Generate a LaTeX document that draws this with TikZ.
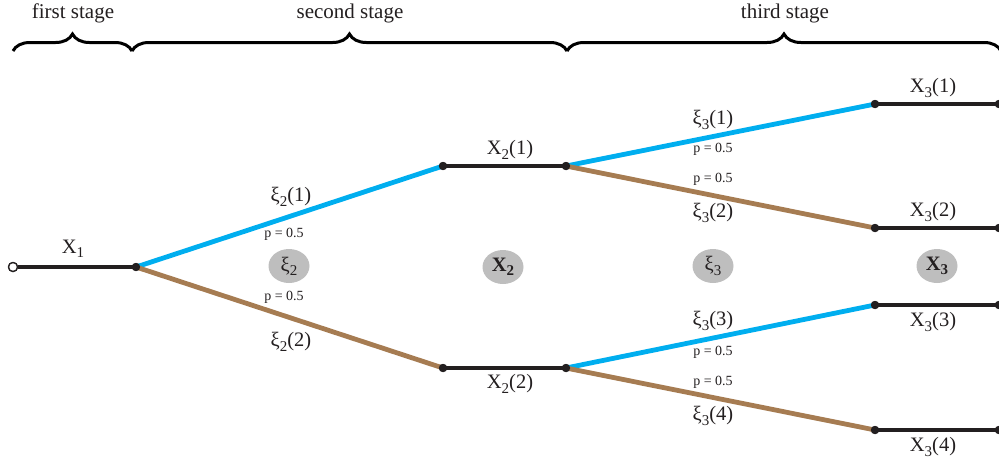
\documentclass[tikz,border=0pt]{standalone}
\usepackage{fontspec}
\setmainfont{Liberation Serif}
\usetikzlibrary{decorations.pathreplacing,shapes.geometric}
\definecolor{cyanline}{RGB}{0,174,239}
\definecolor{brownline}{RGB}{166,124,82}
\definecolor{darkline}{RGB}{35,31,32}
\definecolor{ballgray}{RGB}{190,190,190}
\newcommand\sbs[1]{\raisebox{-0.45ex}{\fontsize{15}{15}\selectfont #1}}
\begin{document}
\begin{tikzpicture}[x=1pt,y=-1pt,
  dot/.style={circle,fill=darkline,inner sep=0pt,minimum size=8pt},
  opendot/.style={circle,draw=darkline,fill=white,line width=1.3pt,inner sep=0pt,minimum size=9pt},
  seg/.style={line width=4.8pt,draw=darkline},
  up/.style={line width=4.8pt,draw=cyanline},
  down/.style={line width=4.8pt,draw=brownline},
  lab/.style={font=\fontsize{20.5}{20.5}\selectfont,text=darkline,inner sep=0pt},
  plab/.style={font=\fontsize{14}{14}\selectfont,text=darkline,inner sep=0pt},
  stagelab/.style={font=\fontsize{21}{21}\selectfont,text=darkline,inner sep=0pt},
  ball/.style={ellipse,fill=ballgray,minimum width=41pt,minimum height=34pt,inner sep=0pt,font=\fontsize{20.5}{20.5}\selectfont,text=darkline},
  bracestyle/.style={decorate,decoration={brace,amplitude=17pt},line width=3pt,draw=black}
]
\useasboundingbox (0,0) rectangle (999,464);
% stage braces
\coordinate (b0) at (13,51);
\coordinate (b1) at (132,51);
\coordinate (b2) at (567,51);
\coordinate (b3) at (1001,51);
\draw[bracestyle] (b0) -- (b1);
\draw[bracestyle] (b1) -- (b2);
\draw[bracestyle] (b2) -- (b3);
\node[stagelab] (s1) at (73,13) {first stage};
\node[stagelab] (s2) at (350,13) {second stage};
\node[stagelab] (s3) at (785,13) {third stage};
% nodes
\node[opendot] (start) at (13,267) {};
\node[dot] (n1) at (136,267) {};
\node[dot] (a1) at (443,166) {};
\node[dot] (b1n) at (566,166) {};
\node[dot] (a2) at (443,368) {};
\node[dot] (b2n) at (566,368) {};
\node[dot] (c1) at (875,104) {};
\node[dot] (d1) at (999,104) {};
\node[dot] (c2) at (875,228) {};
\node[dot] (d2) at (999,228) {};
\node[dot] (c3) at (875,305) {};
\node[dot] (d3) at (999,305) {};
\node[dot] (c4) at (875,430) {};
\node[dot] (d4) at (999,430) {};
% branches
\draw[up] (n1.center) -- (a1.center);
\draw[down] (n1.center) -- (a2.center);
\draw[up] (b1n.center) -- (c1.center);
\draw[down] (b1n.center) -- (c2.center);
\draw[up] (b2n.center) -- (c3.center);
\draw[down] (b2n.center) -- (c4.center);
% decision segments
\draw[seg] (start) -- (n1.center);
\draw[seg] (a1.center) -- (b1n.center);
\draw[seg] (a2.center) -- (b2n.center);
\draw[seg] (c1.center) -- (d1.center);
\draw[seg] (c2.center) -- (d2.center);
\draw[seg] (c3.center) -- (d3.center);
\draw[seg] (c4.center) -- (d4.center);
% redraw dots on top
\foreach \n in {n1,a1,b1n,a2,b2n,c1,d1,c2,d2,c3,d3,c4,d4} \fill[darkline] (\n) circle (4.2pt);
\node[opendot] at (start) {};
% labels
\node[lab] (lx1) at (73,249) {X\sbs{1}};
\node[lab] (lx21) at (510,150) {X\sbs{2}(1)};
\node[lab] (lx22) at (510,384) {X\sbs{2}(2)};
\node[lab] (lx31) at (933,88) {X\sbs{3}(1)};
\node[lab] (lx32) at (933,212) {X\sbs{3}(2)};
\node[lab] (lx33) at (933,322) {X\sbs{3}(3)};
\node[lab] (lx34) at (933,447) {X\sbs{3}(4)};
\node[lab] (e21) at (291,197) {ξ\sbs{2}(1)};
\node[plab] (p21) at (284,234) {p = 0.5};
\node[plab] (p22) at (284,297) {p = 0.5};
\node[lab] (e22) at (291,342) {ξ\sbs{2}(2)};
\node[lab] (e31) at (713,120) {ξ\sbs{3}(1)};
\node[plab] (p31) at (713,149) {p = 0.5};
\node[plab] (p32) at (713,179) {p = 0.5};
\node[lab] (e32) at (713,213) {ξ\sbs{3}(2)};
\node[lab] (e33) at (713,321) {ξ\sbs{3}(3)};
\node[plab] (p33) at (713,352) {p = 0.5};
\node[plab] (p34) at (713,382) {p = 0.5};
\node[lab] (e34) at (713,416) {ξ\sbs{3}(4)};
% stage balls
\node[ball] (g1) at (289,266) {ξ\sbs{2}};
\node[ball] (g2) at (503,267) {\textbf{X\sbs{2}}};
\node[ball] (g3) at (713,266) {ξ\sbs{3}};
\node[ball] (g4) at (937,266) {\textbf{X\sbs{3}}};
\end{tikzpicture}
\end{document}
